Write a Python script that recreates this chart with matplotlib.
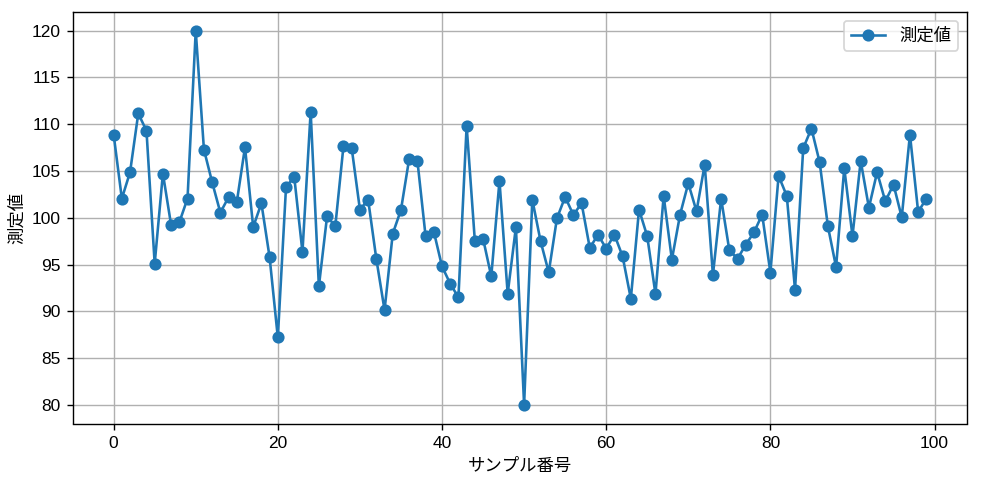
import matplotlib
matplotlib.use("Agg")
import matplotlib.pyplot as plt

plt.rcParams['font.family'] = ['Liberation Sans', 'Noto Sans CJK JP', 'DejaVu Sans']

sample_index = list(range(100))
values = [
    108.9, 102.05, 104.87, 111.15, 109.3, 95.09, 104.73, 99.23, 99.51, 102.05,
    120.0, 107.29, 103.8, 100.55, 102.2, 101.66, 107.54, 99.01, 101.55, 95.77,
    87.2, 103.3, 104.37, 96.34, 111.33, 92.66, 100.16, 99.09, 107.69, 107.44,
    100.87, 101.94, 95.59, 90.13, 98.30, 100.84, 106.3, 106.12, 98.02, 98.52,
    94.8, 92.95, 91.48, 109.83, 97.52, 97.77, 93.73, 103.94, 91.88, 99.0,
    80.0, 101.94, 97.52, 94.16, 99.94, 102.23, 100.3, 101.55, 96.77, 98.19,
    96.7, 98.19, 95.87, 91.34, 100.87, 98.02, 91.84, 102.33, 95.52, 100.34,
    103.69, 100.69, 105.69, 93.88, 102.05, 96.52, 95.62, 97.12, 98.44, 100.34,
    94.13, 104.48, 102.33, 92.31, 107.44, 109.54, 105.94, 99.12, 94.73, 105.3,
    98.05, 106.08, 101.08, 104.87, 101.76, 103.55, 100.05, 108.9, 100.62, 102.05,
]
series_label = "測定値"
x_label = "サンプル番号"
y_label = "測定値"

DPI = 125
fig = plt.figure(figsize=(987 / DPI, 477 / DPI), dpi=DPI)
ax = fig.add_axes([73/987, 1 - 423.5/477, (967-73)/987, (423.5-12)/477])
ax.plot(sample_index, values, marker='o', color='#1f77b4', label=series_label)
ax.set_xlabel(x_label)
ax.set_ylabel(y_label)
ax.grid(True)
ax.legend(loc='upper right')
fig.savefig("out.png", dpi=DPI)
